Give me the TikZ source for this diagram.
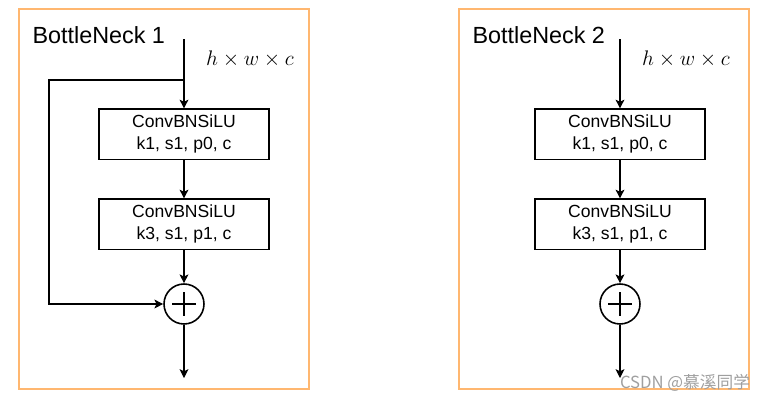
\documentclass[tikz,border=0pt]{standalone}
\usepackage{fontspec}
\setmainfont{Liberation Sans}
\newfontfamily\cjkfont{Noto Sans CJK SC}
\usetikzlibrary{arrows.meta}
\definecolor{frameorange}{RGB}{255,183,112}

\begin{document}
\begin{tikzpicture}[x=0.02cm, y=-0.02cm, line width=0.6pt,
  >={Stealth[length=5pt, width=5pt, inset=1.2pt]},
  frame/.style={draw=frameorange, line width=1.2pt, minimum width=5.8cm, minimum height=7.6cm},
  title/.style={anchor=west, inner sep=0pt, font=\fontsize{13.3}{16}\selectfont},
  convbox/.style={draw, minimum width=3.4cm, minimum height=1cm, align=center,
    font=\fontsize{10}{12.5}\selectfont},
  sumnode/.style={draw, circle, line width=0.9pt, minimum size=0.8cm, inner sep=0pt},
  dimlabel/.style={font=\large}]

\useasboundingbox (0,0) rectangle (769,400);

% Dois blocos BottleNeck
\foreach \n/\x/\f in {1/0/0, 2/436/440} {
  \node[frame] (frame\n) at (164+\f,199) {};
  \node[title] (title\n) at (32+\f,35) {BottleNeck \n};
  \coordinate (in\n) at (184+\x,39);
  \node[dimlabel] (dim\n) at (250+\x,59) {$h\times w\times c$};
  \node[convbox] (conva\n) at (184+\x,134) {ConvBNSiLU\\k1, s1, p0, c};
  \node[convbox] (convb\n) at (184+\x,224) {ConvBNSiLU\\k3, s1, p1, c};
  \node[sumnode] (sum\n) at (184+\x,304) {};
  \coordinate (out\n) at (184+\x,378);
  \draw[->] (in\n) -- (conva\n);
  \draw[->] (conva\n) -- (convb\n);
  \draw[->] (convb\n) -- (sum\n);
  \draw[->] (sum\n) -- (out\n);
  \draw[line width=0.9pt] (sum\n.center) ++(-12,0) -- ++(24,0)
    (sum\n.center) ++(0,-12) -- ++(0,24);
}

% Atalho (residual) do bloco 1
\coordinate (split) at (184,80);
\coordinate (skiptop) at (49,80);
\draw[->] (split) -- (skiptop) |- (sum1);

% Marca d'agua
\node[text=gray!75, font=\cjkfont\fontsize{9.5}{11}\selectfont] (mark) at (685,383) {CSDN @慕溪同学};

\end{tikzpicture}
\end{document}
